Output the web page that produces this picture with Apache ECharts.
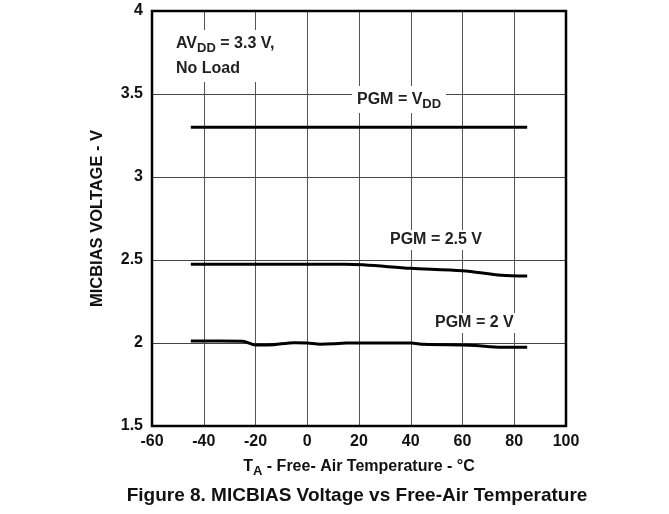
<!DOCTYPE html>
<html><head><meta charset="utf-8">
<script src="https://cdn.jsdelivr.net/npm/echarts@6/dist/echarts.min.js"></script>
<style>html,body{margin:0;padding:0;background:#fff}#c{width:669px;height:514px}</style>
</head><body><div id="c"></div>
<script>
const xTicks = [-60, -40, -20, 0, 20, 40, 60, 80, 100];
const yTicks = [1.5, 2, 2.5, 3, 3.5, 4];
const tempVdd = [-45, 85];
const voltVdd = [3.3, 3.3];
const temp25 = [-45, -25, 0, 15, 40, 60, 75, 85];
const volt25 = [2.474, 2.474, 2.474, 2.474, 2.450, 2.435, 2.408, 2.403];
const temp2 = [-45, -25, -20, -15, -5, 0, 5, 10, 15, 40, 45, 60, 65, 75, 85];
const volt2 = [2.012, 2.011, 1.988, 1.988, 2.002, 2.0, 1.993, 1.995, 2.0, 2.0, 1.992, 1.988, 1.985, 1.975, 1.975];

const F = '"Liberation Sans", Arial, sans-serif';
const pairs = (xs, ys) => xs.map((x, i) => [x, ys[i]]);
const lineSeries = (xs, ys) => ({
  type: 'line', data: pairs(xs, ys), showSymbol: false, smooth: 0.3,
  lineStyle: { color: '#000', width: 3 }, z: 5, silent: true
});

const chart = echarts.init(document.getElementById('c'), null, { renderer: 'canvas' });
chart.setOption({
  animation: false,
  backgroundColor: '#fff',
  grid: { left: 152, top: 11, right: 103, bottom: 88, show: true, borderColor: '#000', borderWidth: 2.5, z: 10 },
  title: {
    text: 'Figure 8. MICBIAS Voltage vs Free-Air Temperature',
    left: 352, textAlign: 'center', top: 481,
    textStyle: { fontFamily: F, fontWeight: 'bold', fontSize: 19, color: '#111' }
  },
  xAxis: {
    type: 'value', min: xTicks[0], max: xTicks[xTicks.length - 1], interval: 20,
    axisLine: { show: false }, axisTick: { show: false },
    splitLine: { show: true, lineStyle: { color: '#555', width: 1 } },
    axisLabel: { fontFamily: F, fontWeight: 'bold', fontSize: 16, color: '#111', margin: 8 },
    name: '{b|T}{s|A}{b| - Free- Air Temperature - °C}', nameLocation: 'middle', nameGap: 30,
    nameTextStyle: { rich: {
      b: { fontFamily: F, fontWeight: 'bold', fontSize: 16, color: '#111' },
      s: { fontFamily: F, fontWeight: 'bold', fontSize: 13, color: '#111', verticalAlign: 'bottom', padding: [9, 0, 0, 0] }
    } }
  },
  yAxis: {
    type: 'value', min: yTicks[0], max: yTicks[yTicks.length - 1], interval: 0.5,
    axisLine: { show: false }, axisTick: { show: false },
    splitLine: { show: true, lineStyle: { color: '#444', width: 1 } },
    axisLabel: { fontFamily: F, fontWeight: 'bold', fontSize: 16, color: '#111', margin: 9 },
    name: 'MICBIAS VOLTAGE - V', nameLocation: 'middle', nameGap: 46,
    nameTextStyle: { fontFamily: F, fontWeight: 'bold', fontSize: 16.5, color: '#111' }
  },
  series: [lineSeries(tempVdd, voltVdd), lineSeries(temp25, volt25), lineSeries(temp2, volt2)],
  graphic: [
    { type: 'text', left: 174, top: 30, z: 20, style: {
      text: '{b|AV}{s|DD}{b| = 3.3 V,}\n{b|No Load}', backgroundColor: '#fff', padding: [1, 2],
      rich: {
        b: { fontFamily: F, fontWeight: 'bold', fontSize: 16, fill: '#222', lineHeight: 25 },
        s: { fontFamily: F, fontWeight: 'bold', fontSize: 13, fill: '#222', padding: [9, 0, 0, 0], lineHeight: 25 }
      } } },
    { type: 'text', left: 352, top: 86, z: 20, style: {
      text: '{b|PGM = V}{s|DD}', backgroundColor: '#fff', padding: [2, 5],
      rich: {
        b: { fontFamily: F, fontWeight: 'bold', fontSize: 16, fill: '#222' },
        s: { fontFamily: F, fontWeight: 'bold', fontSize: 13, fill: '#222', padding: [10, 0, 0, 0] }
      } } },
    { type: 'text', left: 387, top: 230, z: 20, style: {
      text: 'PGM = 2.5 V', backgroundColor: '#fff', padding: [2, 3],
      font: 'bold 16px ' + F, fill: '#222' } },
    { type: 'text', left: 432, top: 313, z: 20, style: {
      text: 'PGM = 2 V', backgroundColor: '#fff', padding: [2, 3],
      font: 'bold 16px ' + F, fill: '#222' } }
  ]
});
</script></body></html>
